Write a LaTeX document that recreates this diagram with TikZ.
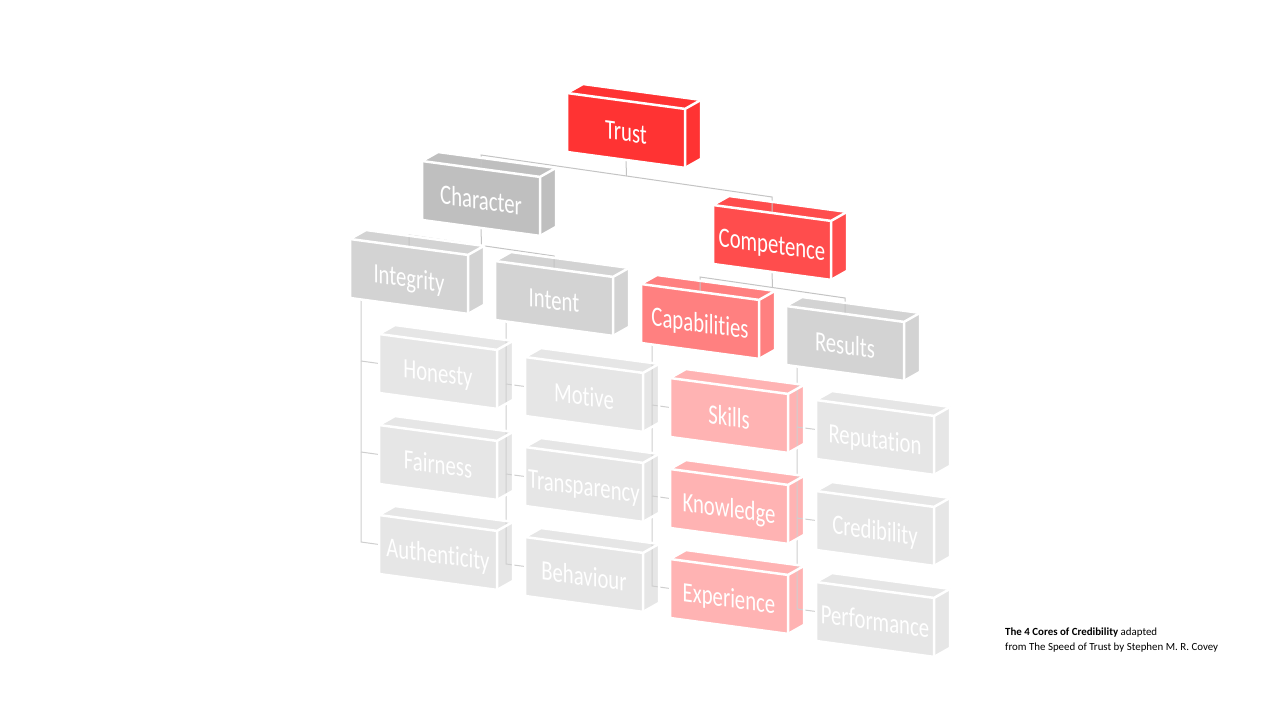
\documentclass[tikz,border=0pt]{standalone}
\usepackage{fontspec}
\setmainfont{Carlito}[Ligatures=CommonOff]
\usetikzlibrary{calc}
\pgfdeclarelayer{bg}
\pgfdeclarelayer{fg}
\pgfsetlayers{bg,main,fg}
\definecolor{redA}{HTML}{FF3333}
\definecolor{redB}{HTML}{FF4D4D}
\definecolor{redC}{HTML}{FF8080}
\definecolor{redD}{HTML}{FFB3B3}
\definecolor{greyA}{HTML}{BFBFBF}
\definecolor{greyB}{HTML}{D3D3D3}
\definecolor{greyC}{HTML}{E6E6E6}
\definecolor{connA}{HTML}{C4C4C4}
\definecolor{connB}{HTML}{CFCFCF}
\tikzset{
  boxedge/.style={draw=white, line width=2.5pt, line join=round},
  boxtext/.style={text=white, font=\fontsize{28}{30}\selectfont, inner sep=0pt,
    text height=18pt, text depth=0pt, cm={0.74,-0.1,0,1,(0,0)}},
  connup/.style={draw=connA, line width=1pt},
  connlow/.style={draw=connB, line width=1pt},
  captext/.style={anchor=base west, inner sep=0pt, text=black, font=\fontsize{10.9}{13}\selectfont},
}
\newcommand\tdbox[5]{%
  \begin{pgfonlayer}{bg}
    \fill[#4] (#2,#3) -- ++(118,15.9) -- ++(0,59) -- ++(-118,-15.9) -- cycle;
    \fill[#4] (#2,#3) -- ++(16,-9) -- ++(118,15.9) -- ++(-16,9) -- cycle;
    \fill[#4] ($(#2,#3)+(118,15.9)$) -- ++(16,-9) -- ++(0,59) -- ++(-16,9) -- cycle;
  \end{pgfonlayer}
  \begin{pgfonlayer}{fg}
    \draw[boxedge] (#2,#3) -- ++(16,-9) -- ++(118,15.9) -- ++(0,59) -- ++(-16,9) -- ++(-118,-15.9) -- cycle;
    \draw[boxedge] (#2,#3) -- ++(118,15.9) -- ++(16,-9) ++(-16,9) -- ++(0,59);
    \node[boxtext] (#1) at ($(#2,#3)+(59,39.5)$) {#5};
  \end{pgfonlayer}
  \coordinate (#1-top) at ($(#2,#3)+(59,8)$);
  \coordinate (#1-bot) at ($(#2,#3)+(59,67)$);
  \coordinate (#1-lb) at ($(#2,#3)+(11,60.5)$);
  \coordinate (#1-left) at ($(#2,#3)+(0,29.5)$);
}
\begin{document}
\begin{tikzpicture}[x=1pt,y=-1pt]
\begin{pgfonlayer}{bg}
  \fill[white] (0,0) rectangle (1280,720);
\end{pgfonlayer}
\useasboundingbox (0,0) rectangle (1280,720);

% boxes
\tdbox{trust}{567}{93}{redA}{Trust}
\tdbox{character}{422}{161}{greyA}{Character}
\tdbox{competence}{713}{205}{redB}{Competence}
\tdbox{integrity}{350}{239}{greyB}{Integrity}
\tdbox{intent}{495}{261}{greyB}{Intent}
\tdbox{capabilities}{641}{284}{redC}{Capabilities}
\tdbox{results}{786}{306}{greyB}{Results}
\tdbox{honesty}{379}{334}{greyC}{Honesty}
\tdbox{fairness}{379}{425}{greyC}{Fairness}
\tdbox{authenticity}{379}{515}{greyC}{Authenticity}
\tdbox{motive}{525}{357}{greyC}{Motive}
\tdbox{transparency}{525}{447}{greyC}{Transparency}
\tdbox{behaviour}{525}{537}{greyC}{Behaviour}
\tdbox{skills}{670}{378}{redD}{Skills}
\tdbox{knowledge}{670}{469}{redD}{Knowledge}
\tdbox{experience}{670}{559}{redD}{Experience}
\tdbox{reputation}{816}{400}{greyC}{Reputation}
\tdbox{credibility}{816}{491}{greyC}{Credibility}
\tdbox{performance}{816}{582}{greyC}{Performance}

% upper connectors
\coordinate (busAl) at (481,155);
\coordinate (busAr) at (772,197);
\draw[connup] (trust-bot) -- ($(busAl)!0.5!(busAr)$);
\draw[connup] (character-top) -- (busAl) -- (busAr) -- (competence-top);

\coordinate (busBl) at (409,235);
\coordinate (busBr) at (554,256);
\draw[connup] (character-bot) -- ($(busBl)!0.5!(busBr)$);
\draw[connup] (integrity-top) -- (busBl) -- (busBr) -- (intent-top);

\coordinate (busCl) at (700,277);
\coordinate (busCr) at (845,298);
\draw[connup] (competence-bot) -- ($(busCl)!0.5!(busCr)$);
\draw[connup] (capabilities-top) -- (busCl) -- (busCr) -- (results-top);

% lower connectors
\draw[connlow] (integrity-lb) -- ($(integrity-lb |- authenticity-left)+(0,-2.5)$) -- (authenticity-left);
\draw[connlow] ($(integrity-lb |- honesty-left)+(0,-2.5)$) -- (honesty-left);
\draw[connlow] ($(integrity-lb |- fairness-left)+(0,-2.5)$) -- (fairness-left);

\draw[connlow] (intent-lb) -- ($(intent-lb |- behaviour-left)+(0,-2.5)$) -- (behaviour-left);
\draw[connlow] ($(intent-lb |- motive-left)+(0,-2.5)$) -- (motive-left);
\draw[connlow] ($(intent-lb |- transparency-left)+(0,-2.5)$) -- (transparency-left);

\draw[connlow] (capabilities-lb) -- ($(capabilities-lb |- experience-left)+(0,-2.5)$) -- (experience-left);
\draw[connlow] ($(capabilities-lb |- skills-left)+(0,-2.5)$) -- (skills-left);
\draw[connlow] ($(capabilities-lb |- knowledge-left)+(0,-2.5)$) -- (knowledge-left);

\draw[connlow] (results-lb) -- ($(results-lb |- performance-left)+(0,-2.5)$) -- (performance-left);
\draw[connlow] ($(results-lb |- reputation-left)+(0,-2.5)$) -- (reputation-left);
\draw[connlow] ($(results-lb |- credibility-left)+(0,-2.5)$) -- (credibility-left);

% caption
\node[captext] (cap1) at (1005,635) {\textbf{The 4 Cores of Credibility} adapted};
\node[captext] (cap2) at (1005,650) {from The Speed of Trust by Stephen M. R. Covey};
\end{tikzpicture}
\end{document}
